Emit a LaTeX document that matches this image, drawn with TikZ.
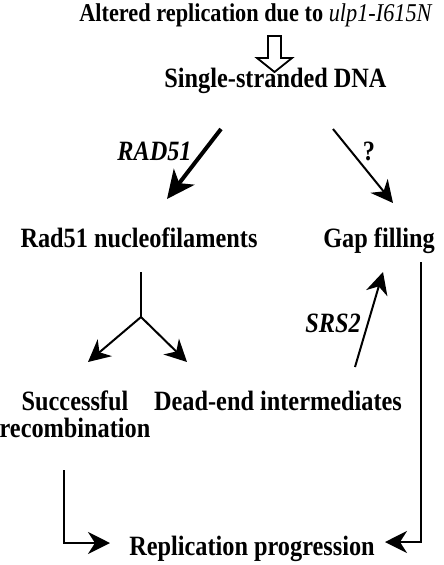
\documentclass[tikz,border=0pt]{standalone}
\usepackage{fontspec}
\setmainfont{Liberation Serif}
\usetikzlibrary{arrows.meta}
\newcommand{\vstr}[1]{\scalebox{1}[1.15]{#1}}
\begin{document}
\begin{tikzpicture}[x=1pt,y=-1pt,
  lbl/.style={anchor=base, inner sep=0pt, font=\bfseries\fontsize{24.3}{29}\selectfont},
  ttl/.style={anchor=base, inner sep=0pt, font=\bfseries\fontsize{22.3}{27}\selectfont},
  gene/.style={anchor=base, inner sep=0pt, font=\bfseries\itshape\fontsize{24.3}{29}\selectfont},
  conn/.style={line width=2pt, -{Stealth[length=22pt,width=22pt,inset=7pt]}},
  bigconn/.style={line width=4pt, -{Stealth[length=28pt,width=26pt,inset=8pt]}},
  plain/.style={line width=2pt},
  hollow/.style={line width=1.8pt, line join=miter}]
\useasboundingbox (0,0) rectangle (444,565);

% texts
\node[ttl] (title) at (256,21) {\vstr{Altered replication due to \textit{\mdseries ulp1-I615N}}};
\node[lbl] (ssdna) at (275.5,87) {\vstr{Single-stranded DNA}};
\node[lbl] (rad) at (139,247) {\vstr{Rad51 nucleofilaments}};
\node[lbl] (gap) at (379,247) {\vstr{Gap filling}};
\node[lbl] (succ1) at (75,410) {\vstr{Successful}};
\node[lbl] (succ2) at (75,437) {\vstr{recombination}};
\node[lbl] (dead) at (278,410) {\vstr{Dead-end intermediates}};
\node[lbl] (prog) at (252,555) {\vstr{Replication progression}};
\node[gene] (lrad) at (154.5,160) {\vstr{RAD51}};
\node[lbl] (lq) at (369,160) {\vstr{?}};
\node[gene] (lsrs) at (333,332) {\vstr{SRS2}};

% hollow arrow
\draw[hollow] (268,36) -- (281,36) -- (281,58) -- (292,58) -- (274.5,72) -- (257,58) -- (268,58) -- cycle;

% coordinates
\coordinate (a1) at (221,129);
\coordinate (a2) at (167,199);
\coordinate (b1) at (333,129);
\coordinate (b2) at (393,203);
\coordinate (c0) at (141,272);
\coordinate (c1) at (141,317);
\coordinate (cl) at (88,362);
\coordinate (cr) at (187,362);
\coordinate (s1) at (355,367);
\coordinate (s2) at (383,272);
\coordinate (r0) at (421,262);
\coordinate (r1) at (421,542);
\coordinate (r2) at (385,542);
\coordinate (l0) at (64,470);
\coordinate (l1) at (64,543);
\coordinate (l2) at (110,543);

% connectors
\draw[bigconn] (a1) -- (a2);
\draw[conn] (b1) -- (b2);
\draw[plain] (c0) -- (c1);
\draw[conn] (c1) -- (cl);
\draw[conn] (c1) -- (cr);
\draw[conn] (s1) -- (s2);
\draw[conn] (r0) -- (r1) -- (r2);
\draw[conn] (l0) -- (l1) -- (l2);
\end{tikzpicture}
\end{document}
